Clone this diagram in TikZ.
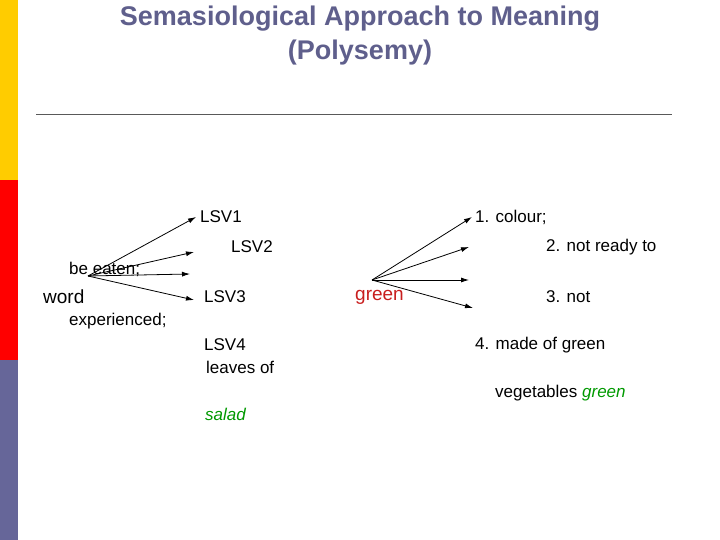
\documentclass[tikz,border=0pt]{standalone}
\usepackage{fontspec}
\setmainfont{Liberation Sans}
\usetikzlibrary{arrows.meta}
\definecolor{titlec}{RGB}{95,95,140}
\definecolor{barp}{RGB}{102,102,153}
\definecolor{bary}{RGB}{255,204,0}
\definecolor{barr}{RGB}{255,0,0}
\definecolor{gr}{RGB}{0,153,0}
\definecolor{rd}{RGB}{200,30,30}
\begin{document}
\begin{tikzpicture}[x=1pt,y=-1pt,
  lbl/.style={anchor=west,inner sep=0pt,font=\fontsize{17}{20}\selectfont},
  arr/.style={-{Latex[length=8pt,width=5pt]},thick}]
\useasboundingbox (0,0) rectangle (720,540);
\fill[bary] (0,0) rectangle (18,180);
\fill[barr] (0,180) rectangle (18,360);
\fill[barp] (0,360) rectangle (18,540);
\node[font=\fontsize{27}{34}\selectfont\bfseries,text=titlec,align=center] (title) at (360,36) {Semasiological Approach to Meaning\\(Polysemy)};
\draw[gray!70!black] (36,114) -- (672,114);
\node[lbl] (lsv1) at (200,217) {LSV1};
\node[lbl] (c1) at (475,217) {1. colour;};
\node[lbl] (lsv2) at (231,247) {LSV2};
\node[lbl] (c2) at (546,247) {2. not ready to};
\node[lbl] (be) at (69,269) {be eaten;};
\node[anchor=west,inner sep=0pt,font=\fontsize{19}{22}\selectfont] (word) at (43,297) {word};
\node[lbl] (lsv3) at (204,297) {LSV3};
\node[anchor=west,inner sep=0pt,font=\fontsize{19}{22}\selectfont,text=rd] (green) at (355,297) {green};
\node[lbl] (c3) at (546,297) {3. not};
\node[lbl] (exp) at (69,321) {experienced;};
\node[lbl] (lsv4) at (204,345) {LSV4};
\node[lbl] (c4) at (475,345) {4. made of green};
\node[lbl] (leaves) at (206,367) {leaves of};
\node[lbl] (veg) at (495,393) {vegetables \textit{\textcolor{gr}{green}}};
\node[lbl,text=gr] (salad) at (205,414) {\itshape salad};
\coordinate (o1) at (88,276);
\coordinate (a1) at (196,217);
\coordinate (a2) at (194,252);
\coordinate (a3) at (190,274);
\coordinate (a4) at (194,300);
\coordinate (o2) at (372,280);
\coordinate (b1) at (472,217);
\coordinate (b2) at (469,247);
\coordinate (b3) at (469,280);
\coordinate (b4) at (473,308);
\foreach \t in {a1,a2,a3,a4} \draw[arr] (o1) -- (\t);
\foreach \t in {b1,b2,b3,b4} \draw[arr] (o2) -- (\t);
\end{tikzpicture}
\end{document}
